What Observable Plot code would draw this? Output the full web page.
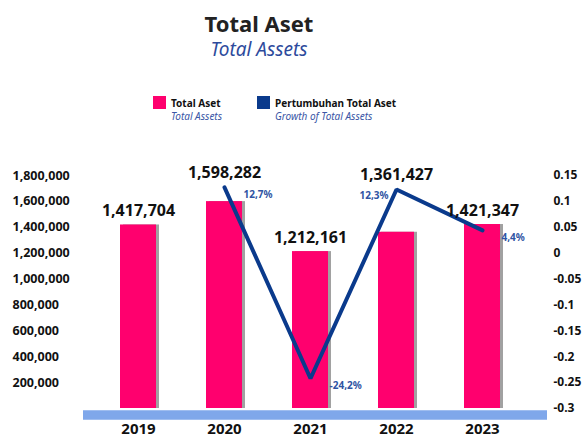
<!DOCTYPE html>
<html>
<head>
<meta charset="utf-8">
<script src="https://cdn.jsdelivr.net/npm/d3@7"></script>
<script src="https://cdn.jsdelivr.net/npm/@observablehq/plot@0.6"></script>
<style>
  body { margin: 0; background: #fff; font-family: "Noto Sans", sans-serif; }
  #wrap { position: relative; width: 586px; height: 439px; overflow: hidden; }
  .abs { position: absolute; white-space: nowrap; }
  .title { left: 0; width: 518px; text-align: center; top: 10px; font-size: 22px; line-height: 26px; font-weight: 700; color: #222; }
  .subtitle { left: 0; width: 518px; text-align: center; top: 37px; font-size: 19px; line-height: 24px; font-style: italic; color: #2d4a9c; }
  .sw { width: 13px; height: 13px; top: 96px; }
  .lg { top: 97px; font-size: 10px; line-height: 12.5px; }
  .lg b { color: #111; display: block; }
  .lg i { color: #3a56a6; display: block; }
  #chart { position: absolute; left: 0; top: 135px; }
</style>
</head>
<body>
<div id="wrap">
  <div class="abs title">Total Aset</div>
  <div class="abs subtitle">Total Assets</div>
  <div class="abs sw" style="left:153px;background:#ff006e"></div>
  <div class="abs lg" style="left:171px"><b>Total Aset</b><i>Total Assets</i></div>
  <div class="abs sw" style="left:257px;background:#0a3a8c"></div>
  <div class="abs lg" style="left:275px"><b>Pertumbuhan Total Aset</b><i>Growth of Total Assets</i></div>
  <div id="chart"></div>
</div>
<script>
const years = ["2019", "2020", "2021", "2022", "2023"];
const totalAssets = [1417704, 1598282, 1212161, 1361427, 1421347];
const growthYears = ["2020", "2021", "2022", "2023"];
const growth = [0.127, -0.242, 0.123, 0.044];
const growthLabels = ["12,7%", "-24,2%", "12,3%", "4,4%"];
const leftTicks = [200000, 400000, 600000, 800000, 1000000, 1200000, 1400000, 1600000, 1800000];
const rightTicks = [0.15, 0.1, 0.05, 0, -0.05, -0.1, -0.15, -0.2, -0.25, -0.3];

const yMax = 1800000, gMin = -0.3, gMax = 0.15;
const g2y = g => (g - gMin) / (gMax - gMin) * yMax;
const y2g = v => +(v / yMax * (gMax - gMin) + gMin).toFixed(2);

const bars = years.map((year, i) => ({year, value: totalAssets[i]}));
const grow = growthYears.map((year, i) => ({
  year, g: growth[i], label: growthLabels[i],
  rising: i > 0 && growth[i] > growth[i - 1]
}));
const labelTop = bars.map(b => {
  const gi = growthYears.indexOf(b.year);
  return {...b, top: Math.max(b.value, gi >= 0 ? g2y(growth[gi]) : 0)};
});

const font = "Noto Sans, sans-serif";
const plot = Plot.plot({
  width: 586,
  height: 304,
  marginTop: 40,
  marginBottom: 31,
  marginLeft: 83,
  marginRight: 39,
  style: {fontFamily: font, background: "transparent", overflow: "visible"},
  x: {type: "band", domain: years, range: [94, 527], paddingInner: 0.58, paddingOuter: 0.29},
  y: {domain: [0, yMax]},
  marks: [
    Plot.barY(bars, {x: "year", y: "value", fill: "#444", fillOpacity: 0.5, dx: 3, ariaLabel: "shadow"}),
    Plot.barY(bars, {x: "year", y: "value", fill: "#ff006e"}),
    Plot.ruleY([0], {stroke: "#7fa7ea", strokeWidth: 9.5, dy: 6.5}),
    Plot.line(grow, {x: "year", y: d => g2y(d.g), stroke: "#0a3a8c", strokeWidth: 4, strokeLinejoin: "miter"}),
    Plot.text(labelTop, {x: "year", y: "top", text: d => d3.format(",")(d.value), dy: -9, lineAnchor: "bottom",
      fontSize: 16, fontWeight: 700, fill: "#111"}),
    Plot.text(grow, {filter: d => !d.rising, x: "year", y: d => g2y(d.g), text: "label", textAnchor: "start",
      dx: 19, dy: 7, fontSize: 10, fontWeight: 700, fill: "#2f54a3"}),
    Plot.text(grow, {filter: d => d.rising, x: "year", y: d => g2y(d.g), text: "label", textAnchor: "end",
      dx: -8, dy: 6, fontSize: 10, fontWeight: 700, fill: "#2f54a3"}),
    Plot.axisY(leftTicks, {anchor: "left", tickSize: 0, tickPadding: 3, textAnchor: "start", dx: -68,
      tickFormat: d3.format(","), fontSize: 12.5, fontWeight: 700, fill: "#111", label: null}),
    Plot.axisY(rightTicks.map(g2y), {anchor: "right", tickSize: 0, tickPadding: 6, textAnchor: "start",
      tickFormat: v => String(y2g(v)), fontSize: 12, fontWeight: 700, fill: "#111", label: null}),
    Plot.axisX({tickSize: 0, tickPadding: 15, fontSize: 15, fontWeight: 700, fill: "#111", label: null})
  ]
});
document.getElementById("chart").appendChild(plot);
d3.select(plot).selectAll('g[aria-label="shadow"]').style("filter", "blur(2px)");
</script>
</body>
</html>
